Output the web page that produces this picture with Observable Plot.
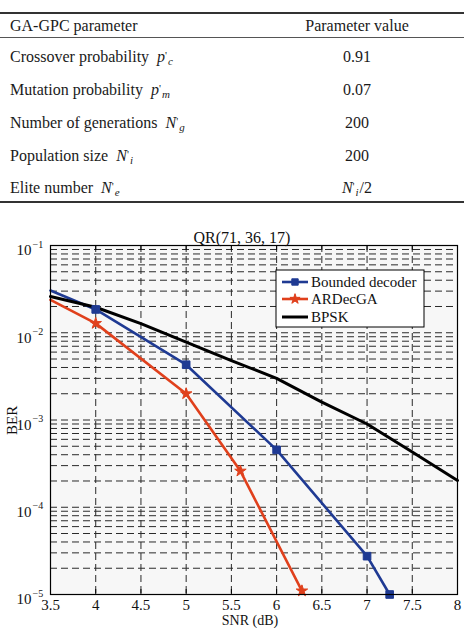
<!DOCTYPE html>
<html>
<head>
<meta charset="utf-8">
<script src="https://cdn.jsdelivr.net/npm/d3@7"></script>
<script src="https://cdn.jsdelivr.net/npm/@observablehq/plot@0.6"></script>
<style>
html,body{margin:0;padding:0;background:#fff;}
body{width:464px;height:628px;overflow:hidden;position:relative;font-family:"Liberation Serif","Times New Roman",serif;color:#1a1a1a;}
.rule{position:absolute;left:0;width:464px;background:#333;}
.row{position:absolute;left:0;width:464px;height:33px;line-height:33px;font-size:16px;white-space:nowrap;}
.c1{position:absolute;left:10px;top:0;}
.c2{position:absolute;left:250px;width:214px;top:0;text-align:center;}
.ss{display:inline-block;position:relative;width:10px;height:0;}
.ss.narrow{width:7px;}
.pr{position:absolute;left:0;top:-12px;font-size:11px;line-height:11px;font-style:normal;}
.sb{position:absolute;left:3px;top:-6px;font-size:11px;line-height:11px;font-style:italic;}
#chart{position:absolute;left:0;top:210px;}
</style>
</head>
<body>
<div id="tbl"></div>
<div id="chart"></div>
<script>
// ---- table content ----
const tableHeader = ["GA-GPC parameter", "Parameter value"];
const paramNames = ["Crossover probability", "Mutation probability", "Number of generations", "Population size", "Elite number"];
const paramSymbolBase = ["p", "p", "N", "N", "N"];
const paramSymbolSub = ["c", "m", "g", "i", "e"];
const paramValues = ["0.91", "0.07", "200", "200", "ELITE"];

// ---- chart data ----
const chartTitle = "QR(71, 36, 17)";
const xLabel = "SNR (dB)";
const yLabel = "BER";
const xTicks = [3.5, 4, 4.5, 5, 5.5, 6, 6.5, 7, 7.5, 8];
const yTicks = [1e-5, 1e-4, 1e-3, 1e-2, 1e-1];
const yTickBase = "10";
const yTickExp = ["\u22125", "\u22124", "\u22123", "\u22122", "\u22121"];

const seriesNames = ["Bounded decoder", "ARDecGA", "BPSK"];
const seriesColors = ["#1f3a93", "#e0401c", "#000000"];

const snrBounded = [3.5, 4, 5, 6, 7, 7.25];
const berBounded = [0.0305, 0.0185, 0.0043, 0.000455, 0.0000275, 0.00001];
const snrARDecGA = [3.5, 4, 5, 5.6, 6.28];
const berARDecGA = [0.0238, 0.0128, 0.0020, 0.00026, 0.000011];
const snrBPSK = [3.5, 4, 4.5, 5, 5.5, 6, 6.5, 7, 7.5, 8];
const berBPSK = [0.026, 0.0196, 0.0127, 0.0078, 0.0048, 0.0030, 0.0016, 0.00090, 0.00043, 0.000203];

// ---- build table ----
function sym(base, sub) {
  const cls = sub === "i" ? "ss narrow" : "ss";
  return `<i>${base}</i><span class="${cls}"><span class="pr">'</span><span class="sb">${sub}</span></span>`;
}
const tbl = document.getElementById("tbl");
let html = "";
html += `<div class="rule" style="top:12px;height:1.5px"></div>`;
html += `<div class="row" style="top:9px"><span class="c1">${tableHeader[0]}</span><span class="c2">${tableHeader[1]}</span></div>`;
html += `<div class="rule" style="top:37px;height:1px;background:#555"></div>`;
paramNames.forEach((n, i) => {
  const top = 40.4 + i * 32.75;
  const val = paramValues[i] === "ELITE" ? `${sym("N", "i")}/2` : paramValues[i];
  html += `<div class="row" style="top:${top}px"><span class="c1">${n}&nbsp; ${sym(paramSymbolBase[i], paramSymbolSub[i])}</span><span class="c2">${val}</span></div>`;
});
html += `<div class="rule" style="top:201px;height:1.5px"></div>`;
tbl.innerHTML = html;

// ---- build chart ----
const series = [
  {name: seriesNames[0], color: seriesColors[0], snr: snrBounded, ber: berBounded, symbol: "square", r: 4.3, width: 2.6},
  {name: seriesNames[1], color: seriesColors[1], snr: snrARDecGA, ber: berARDecGA, symbol: "star", r: 3.6, width: 2.6},
  {name: seriesNames[2], color: seriesColors[2], snr: snrBPSK, ber: berBPSK, symbol: null, r: 0, width: 3}
];
const rows = s => s.snr.map((x, i) => ({snr: x, ber: s.ber[i]}));

const xGrid = xTicks.slice(1, -1);
const yGrid = [];
for (let e = -5; e <= -2; e++) for (let m = 1; m <= 9; m++) {
  const v = m * Math.pow(10, e);
  if (v > 1e-5 * 1.0001) yGrid.push(v);
}

const marks = [
  Plot.frame({fill: "#f7f7f7", stroke: "none"}),
  Plot.ruleX(xGrid, {x: d => d, stroke: "#2a2a2a", strokeWidth: 1, strokeDasharray: "7,4"}),
  Plot.ruleY(yGrid, {y: d => d, stroke: "#2a2a2a", strokeWidth: 1, strokeDasharray: "7,4"}),
  Plot.ruleX(xGrid, {x: d => d, y1: 1e-5, y2: 1.14e-5, stroke: "#000", strokeWidth: 1}),
  Plot.ruleX(xGrid, {x: d => d, y1: 1e-1, y2: 0.0877, stroke: "#000", strokeWidth: 1})
];
for (const s of series) {
  marks.push(Plot.line(rows(s), {x: "snr", y: "ber", stroke: s.color, strokeWidth: s.width}));
}
for (const s of series) {
  if (!s.symbol) continue;
  marks.push(Plot.dot(rows(s).filter(d => d.snr > 3.5), {x: "snr", y: "ber", symbol: s.symbol, r: s.r, fill: s.color, stroke: s.color, strokeWidth: 1}));
}
marks.push(
  Plot.frame({stroke: "#000", strokeWidth: 1.2}),
  Plot.text(yTicks, {y: d => d, frameAnchor: "left", text: () => yTickBase, textAnchor: "end", dx: -19, dy: 5, fontSize: 15}),
  Plot.text(yTicks.map((v, i) => ({v, e: yTickExp[i]})), {y: "v", text: "e", frameAnchor: "left", textAnchor: "start", dx: -18, dy: -1, fontSize: 10}),
  Plot.text([chartTitle], {frameAnchor: "top", text: d => d, dy: -14, dx: -12, fontSize: 16}),
  Plot.text([xLabel], {frameAnchor: "bottom", text: d => d, dy: 30, dx: -4, fontSize: 14}),
  Plot.text([yLabel], {frameAnchor: "left", text: d => d, dx: -38, dy: 15, rotate: -90, fontSize: 15})
);

const chart = Plot.plot({
  width: 464,
  height: 418,
  marginLeft: 50,
  marginRight: 7,
  marginTop: 35,
  marginBottom: 34,
  style: {fontFamily: '"Liberation Serif", "Times New Roman", serif', fontSize: "15px", color: "#111", background: "transparent", overflow: "visible"},
  x: {type: "linear", domain: [3.5, 8], ticks: xTicks, tickFormat: d => String(d), tickSize: 0, tickPadding: 5, label: null},
  y: {type: "log", domain: [1e-5, 1e-1], axis: null},
  marks
});
document.getElementById("chart").appendChild(chart);

// ---- legend ----
const svg = d3.select(chart);
const lg = svg.append("g").attr("text-anchor", "start");
lg.append("rect").attr("x", 276).attr("y", 60).attr("width", 148).attr("height", 57)
  .attr("fill", "#fff").attr("stroke", "#000").attr("stroke-width", 1);
const ly = [72, 89, 107];
series.forEach((s, i) => {
  lg.append("line").attr("x1", 282).attr("x2", 308).attr("y1", ly[i]).attr("y2", ly[i])
    .attr("stroke", s.color).attr("stroke-width", s.width);
  if (s.symbol) {
    const t = s.symbol === "square" ? d3.symbolSquare : d3.symbolStar;
    const rr = s.symbol === "square" ? 3.6 : 3.2;
    lg.append("path").attr("d", d3.symbol(t, Math.PI * rr * rr)())
      .attr("transform", `translate(295,${ly[i]})`).attr("fill", s.color).attr("stroke", s.color);
  }
  lg.append("text").attr("x", 311).attr("y", ly[i]).attr("dy", "0.35em")
    .attr("text-anchor", "start").attr("font-size", 15).attr("fill", "#111").text(s.name);
});
</script>
</body>
</html>
